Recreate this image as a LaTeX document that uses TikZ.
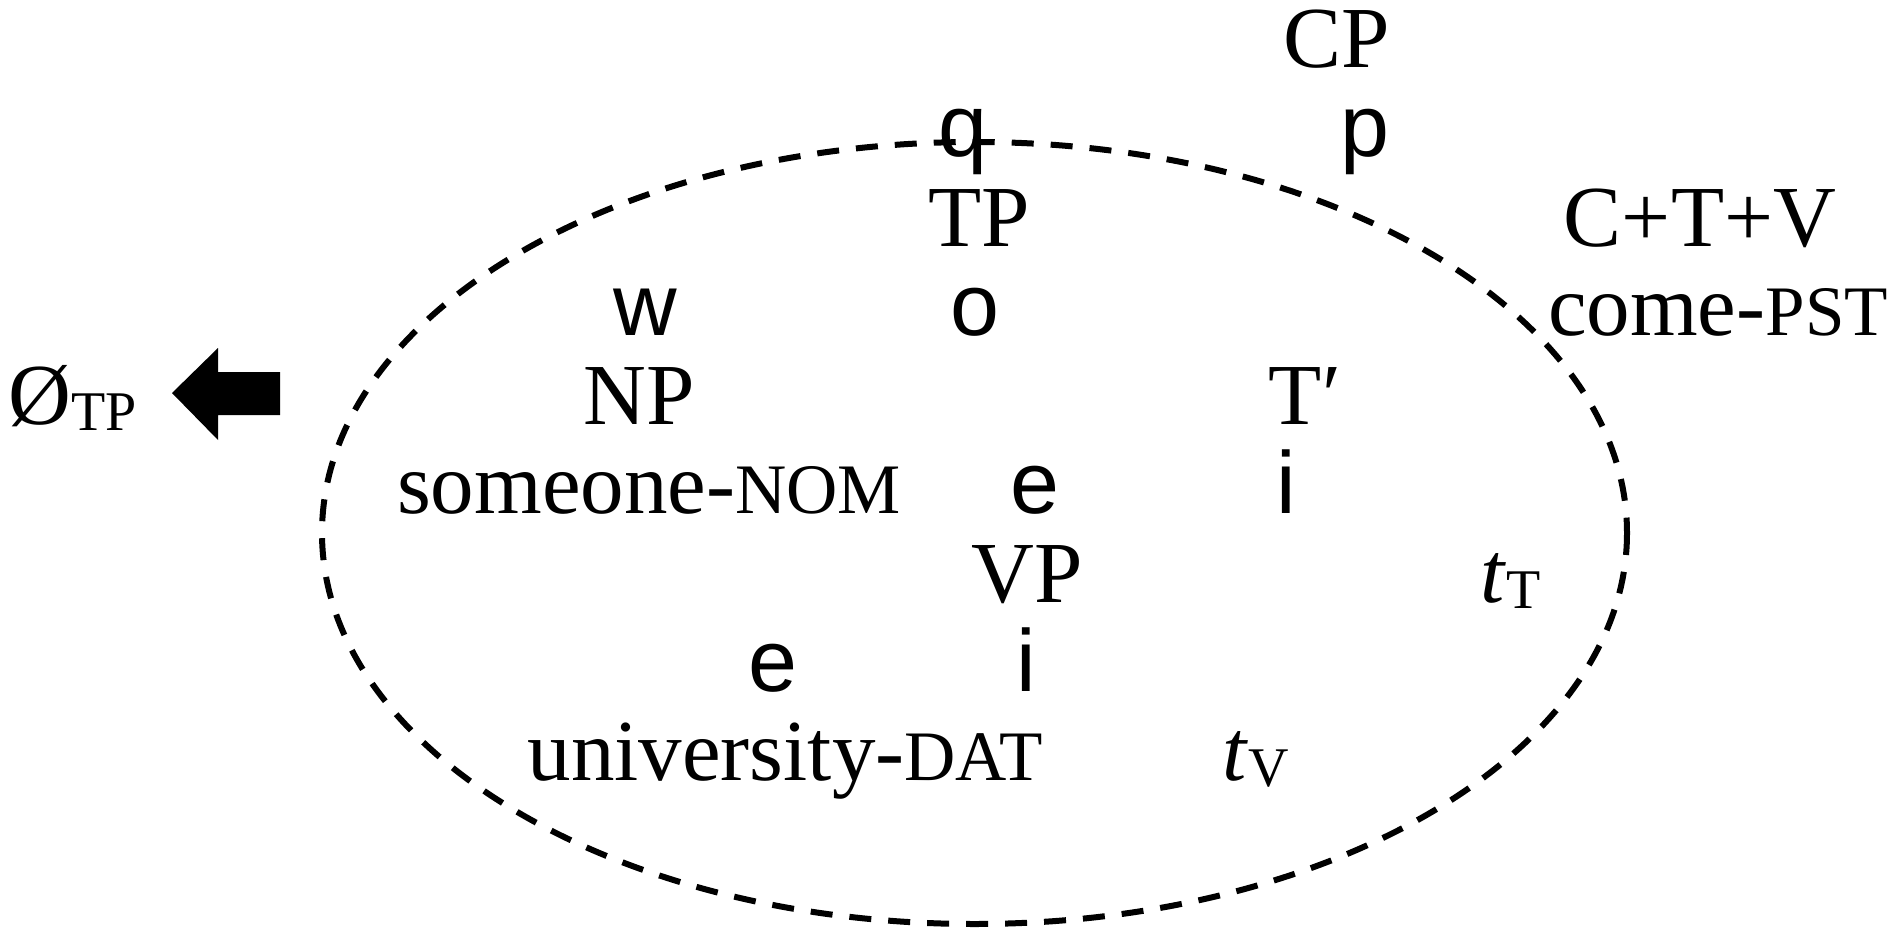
\documentclass[tikz,border=0pt]{standalone}
\usepackage{fontspec}
\setmainfont{Liberation Serif}
\newfontfamily\treefont{Liberation Sans}
\newcommand{\smc}[1]{{\fontsize{71}{71}\selectfont #1}}
\newcommand{\sbs}[1]{\raisebox{-6pt}{\fontsize{56}{56}\selectfont #1}}
\begin{document}
\begin{tikzpicture}[x=1pt,y=-1pt,
  lbl/.style={inner sep=0pt, anchor=base, font=\fontsize{87}{87}\selectfont},
  tree/.style={inner sep=0pt, anchor=base, font=\treefont\fontsize{88}{88}\selectfont},
  dashring/.style={line width=6pt, dash pattern=on 22pt off 17pt},
  bigarrow/.style={fill=black}]
\useasboundingbox (0,0) rectangle (1903,944);
% dashed domain
\draw[dashring] (974.5,533) ellipse [x radius=652.5, y radius=391];
% tree
\node[lbl]  (CP)   at (1337,68)  {CP};
\node[tree] (q)    at (963,157)  {q};
\node[tree] (p)    at (1365,157) {p};
\node[lbl]  (TP)   at (979,246)  {TP};
\node[lbl]  (CTV)  at (1700,246) {C+T+V};
\node[tree] (w)    at (645,335)  {w};
\node[tree] (o)    at (975,335)  {o};
\node[lbl]  (come) at (1718,335) {come-\smc{PST}};
\node[lbl]  (null) at (73,424)   {Ø\sbs{TP}};
\node[lbl]  (NP)   at (639,424)  {NP};
\node[lbl]  (Tbar) at (1305,424) {T′};
\node[lbl]  (some) at (649,513)  {someone-\smc{NOM}};
\node[tree] (e1)   at (1035,513) {e};
\node[tree] (i1)   at (1286,513) {i};
\node[lbl]  (VP)   at (1027,602) {VP};
\node[lbl]  (tT)   at (1511,602) {\textit{t}\sbs{T}};
\node[tree] (e2)   at (773,691)  {e};
\node[tree] (i2)   at (1026,691) {i};
\node[lbl]  (univ) at (785,780)  {university-\smc{DAT}};
\node[lbl]  (tV)   at (1256,780) {\textit{t}\sbs{V}};
% block arrow pointing at the null TP
\fill[bigarrow] (172,393) -- (218,348) -- (218,372) -- (280,372) -- (280,415) -- (218,415) -- (218,440) -- cycle;
\end{tikzpicture}
\end{document}
